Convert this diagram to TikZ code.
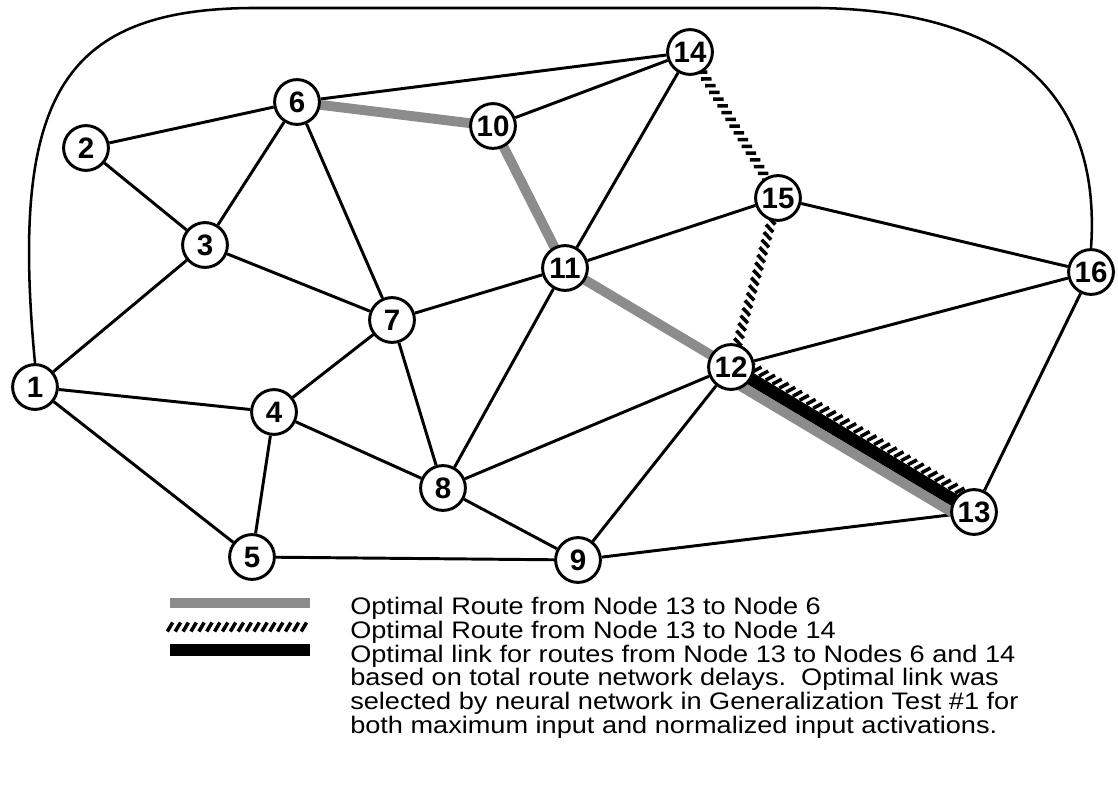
\documentclass[tikz,border=0pt]{standalone}
\usepackage{fontspec}
\setmainfont{Liberation Sans}
\newfontfamily\legfont{Liberation Sans}[FakeStretch=1.135]
\usetikzlibrary{positioning,decorations.markings}
\pgfdeclarelayer{bg}
\pgfsetlayers{bg,main}

\begin{document}
\begin{tikzpicture}[x=.025cm,y=-.025cm,
  nd/.style={circle,draw,line width=2.1pt,fill=white,inner sep=0pt,minimum size=1.12cm,font=\bfseries\fontsize{21}{21}\selectfont},
  lnk/.style={line width=2.1pt},
  rtsix/.style={line width=7pt,black!45},
  rtfourteen/.style={postaction={decorate,decoration={markings,
    mark=between positions 0 and 1 step 5.6pt with {\draw[line width=2.5pt] (-1.9pt,-3.2pt)--(1.9pt,3.2pt);}}}},
  best/.style={line width=9pt}]
\useasboundingbox (0,0) rectangle (1118,787);
% network nodes
\node[nd] (n1) at (35,387) {1};
\node[nd] (n2) at (86,148) {2};
\node[nd] (n3) at (205,245) {3};
\node[nd] (n4) at (274,412) {4};
\node[nd] (n5) at (252,557) {5};
\node[nd] (n6) at (297,102) {6};
\node[nd] (n7) at (392,320) {7};
\node[nd] (n8) at (443,488) {8};
\node[nd] (n9) at (578,560) {9};
\node[nd] (n10) at (493,126) {10};
\node[nd] (n11) at (565,268) {11};
\node[nd] (n12) at (731,367) {12};
\node[nd] (n13) at (974,512) {13};
\node[nd] (n14) at (690,52) {14};
\node[nd] (n15) at (778,198) {15};
\node[nd] (n16) at (1091,272) {16};
\begin{pgfonlayer}{bg}
\foreach \a/\b in {1/3,1/4,1/5,2/3,2/6,3/6,3/7,4/5,4/7,4/8,5/9,6/7,6/14,7/8,7/11,8/9,8/11,8/12,9/12,9/13,10/14,11/14,11/15,12/16,13/16,15/16}{\draw[lnk] (n\a)--(n\b);}
\draw[line width=1.8pt] (n1.north) .. controls (10,100) and (60,10) .. (250,8) -- (820,8) .. controls (1040,12) and (1100,120) .. (n16.north);
% routes
\draw[rtsix] (n6.center)--(n10.center)--(n11.center)--(n12.center);
\path[rtfourteen] (n14.center)--(n15.center);
\path[rtfourteen] (n15.center)--(n12.center);
\draw[rtsix] ([shift={(-5.8,9.9)}]n12.center)--([shift={(-5.8,9.9)}]n13.center);
\path[rtfourteen] ([shift={(5.6,-9.6)}]n12.center)--([shift={(5.6,-9.6)}]n13.center);
\draw[best] (n12.center)--(n13.center);
\end{pgfonlayer}
% legend
\coordinate (ga) at (170,603);\coordinate (gb) at (310,603);
\coordinate (ha) at (170,627);\coordinate (hb) at (310,627);
\coordinate (ba) at (170,650);\coordinate (bb) at (310,650);
\draw[rtsix] (ga)--(gb);\path[rtfourteen] (ha)--(hb);\draw[best] (ba)--(bb);
\node[anchor=north west,inner sep=0pt,align=left,font=\legfont\fontsize{17}{16.9}\selectfont] (legtxt) at (350,597) {Optimal Route from Node 13 to Node 6\\Optimal Route from Node 13 to Node 14\\Optimal link for routes from Node 13 to Nodes 6 and 14\\based on total route network delays.\ \ Optimal link was\\selected by neural network in Generalization Test \#1 for\\both maximum input and normalized input activations.};
\end{tikzpicture}
\end{document}
